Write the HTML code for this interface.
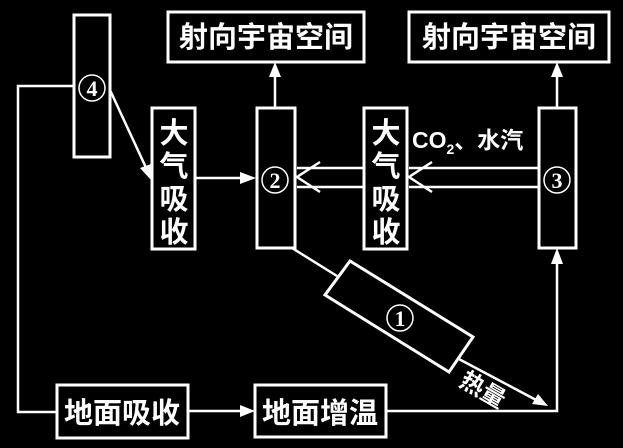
<!DOCTYPE html>
<html><head><meta charset="utf-8"><style>
html,body{margin:0;padding:0;background:#000;}
svg{display:block}
text{font-family:"Liberation Sans","Noto Sans CJK SC",sans-serif;fill:#fff;font-weight:bold}
</style></head><body>
<svg width="623" height="448" viewBox="0 0 623 448" xmlns="http://www.w3.org/2000/svg">
<rect width="623" height="448" fill="#000"/>
<g fill="none" stroke="#fff" stroke-width="3">
<rect x="74" y="15" width="36" height="142"/>
<rect x="168" y="12" width="196" height="50"/>
<rect x="409" y="12" width="200" height="50"/>
<rect x="152" y="108" width="43" height="141"/>
<rect x="257" y="108" width="38" height="140"/>
<rect x="364" y="108" width="43" height="141"/>
<rect x="539" y="108" width="37" height="140"/>
<polygon points="350,261 473,337 449,372 325,295"/>
<rect x="57" y="385" width="131" height="53"/>
<rect x="255" y="385" width="131" height="52"/>
</g>
<g stroke="#fff" stroke-width="2.5" fill="none">
<polyline points="74,86 18,86 18,412 57,412"/>
<line x1="188" y1="411" x2="245" y2="411"/>
<polyline points="386,411 557,411 557,258"/>
<line x1="110" y1="90" x2="148" y2="172"/>
<line x1="195" y1="178" x2="248" y2="178"/>
<line x1="275" y1="108" x2="275" y2="72"/>
<line x1="557" y1="108" x2="557" y2="72"/>
<line x1="539" y1="168" x2="409" y2="168"/>
<line x1="539" y1="187" x2="409" y2="187"/>
<line x1="364" y1="168" x2="297" y2="168"/>
<line x1="364" y1="187" x2="297" y2="187"/>
<polyline points="432,162 409,177 432,192"/>
<polyline points="320,162 297,177 320,192"/>
<line x1="292" y1="248" x2="337" y2="276"/>
<line x1="457" y1="358" x2="538" y2="401"/>
</g>
<g fill="#fff">
<polygon points="255,411 240,405 240,417"/>
<polygon points="557,248 551,264 563,264"/>
<polygon points="151,180 140,168 151,164"/>
<polygon points="256,178 240,172 240,184"/>
<polygon points="275,62 269,77 281,77"/>
<polygon points="557,62 551,77 563,77"/>
<polygon points="548,406 532,404 538,394"/>
</g>
<g fill="none" stroke="#fff" stroke-width="1.5">
<circle cx="92" cy="88" r="13"/>
<circle cx="275" cy="180" r="13"/>
<circle cx="557" cy="180" r="13"/>
<circle cx="400" cy="318" r="13"/>
</g>
<text x="92" y="96" font-size="22" text-anchor="middle" font-weight="normal" style="font-family:'Liberation Serif',serif">4</text>
<text x="275" y="188" font-size="22" text-anchor="middle" font-weight="normal" style="font-family:'Liberation Serif',serif">2</text>
<text x="557" y="188" font-size="22" text-anchor="middle" font-weight="normal" style="font-family:'Liberation Serif',serif">3</text>
<text x="400" y="326" font-size="22" text-anchor="middle" font-weight="normal" style="font-family:'Liberation Serif',serif">1</text>
<text x="266" y="47" font-size="29" text-anchor="middle">射向宇宙空间</text>
<text x="509" y="47" font-size="29" text-anchor="middle">射向宇宙空间</text>
<g font-size="29" text-anchor="middle">
<text x="174" y="143">大</text><text x="174" y="176">气</text><text x="174" y="209">吸</text><text x="174" y="242">收</text>
<text x="386" y="143">大</text><text x="386" y="176">气</text><text x="386" y="209">吸</text><text x="386" y="242">收</text>
</g>
<text x="412" y="148" font-size="23" font-weight="normal">CO<tspan font-size="14" dy="6">2</tspan><tspan dy="-6">、水汽</tspan></text>
<text x="122" y="423" font-size="29" text-anchor="middle">地面吸收</text>
<text x="320" y="423" font-size="29" text-anchor="middle">地面增温</text>
<text x="0" y="0" font-size="24" transform="translate(458,385) rotate(30)">热量</text>
</svg>
</body></html>
